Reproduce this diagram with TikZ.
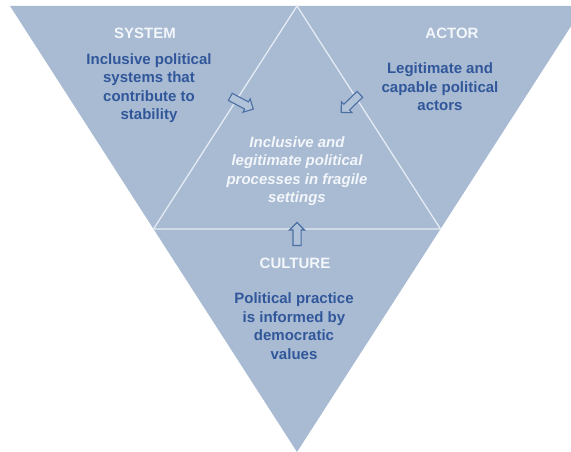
\documentclass[tikz,border=0pt]{standalone}
\usepackage{fontspec}
\setmainfont{Liberation Sans}
\usetikzlibrary{shapes.arrows,calc}
\definecolor{panel}{HTML}{A8BBD3}
\definecolor{edge}{HTML}{E4EBF3}
\definecolor{ink}{HTML}{31579A}
\definecolor{head}{HTML}{F3F6FA}
\definecolor{arrowline}{HTML}{4C6FA3}
\definecolor{arrowfill}{HTML}{B1C3D9}
\begin{document}
\begin{tikzpicture}[x=1pt,y=-1pt,
  title/.style={text=head, font=\bfseries\fontsize{15}{18}\selectfont, inner sep=0pt},
  body/.style={text=ink, align=center, font=\bfseries\fontsize{15}{18.5}\selectfont, inner sep=0pt},
  core/.style={text=head, align=center, font=\bfseries\itshape\fontsize{15}{18.5}\selectfont, inner sep=0pt},
  flow/.style={single arrow, draw=arrowline, fill=arrowfill, line width=1.1pt,
    inner sep=3.5pt, single arrow head extend=3.5pt, minimum height=26pt, anchor=center}]
\useasboundingbox (0,0) rectangle (571,452);
\clip (0,0) rectangle (571,452);

% outer inverted triangle
\coordinate (tl) at (10,6);
\coordinate (tr) at (584,6);
\coordinate (bot) at (297,452);
\fill[panel] (tl) -- (tr) -- (bot) -- cycle;

% inner triangle through the edge midpoints
\coordinate (top) at ($(tl)!0.5!(tr)$);
\coordinate (lm) at ($(tl)!0.5!(bot)$);
\coordinate (rm) at ($(tr)!0.5!(bot)$);
\draw[edge, line width=1.3pt] (top) -- (lm) -- (rm) -- cycle;

% headings
\node[title] (sys) at (145,33) {SYSTEM};
\node[title] (act) at (452,33) {ACTOR};
\node[title] (cul) at (295,263) {CULTURE};

% descriptions
\node[body] (sysb) at (149,88) {Inclusive political\\systems that\\contribute to\\stability};
\node[body] (actb) at (440,87) {Legitimate and\\capable political\\actors};
\node[body] (culb) at (294,326) {Political practice\\is informed by\\democratic\\values};
\node[core] (mid) at (297,171) {Inclusive and\\legitimate political\\processes in fragile\\settings};

% arrows pointing into the centre
\node[flow, rotate=-28] (sa) at (240,102) {};
\node[flow, rotate=-136] (aa) at (352,102) {};
\node[flow, rotate=90, minimum height=23pt] (ca) at (297,236) {};
\end{tikzpicture}
\end{document}
